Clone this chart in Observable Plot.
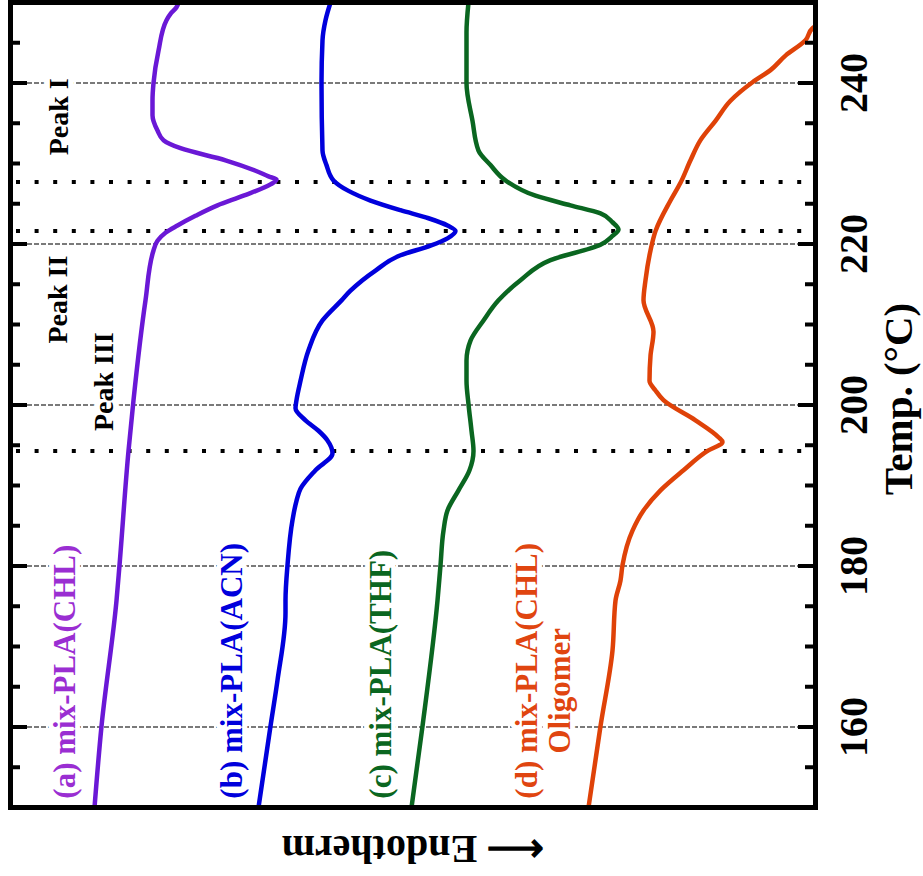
<!DOCTYPE html>
<html><head><meta charset="utf-8">
<script src="https://cdn.jsdelivr.net/npm/d3@7"></script>
<script src="https://cdn.jsdelivr.net/npm/@observablehq/plot@0.6"></script>
<style>body{margin:0;background:#fff}</style>
</head><body>
<div id="chart"></div>
<script>
// Temperature ticks (°C)
const majorTicks = [160, 180, 200, 220, 240];
const minorTicks = [155, 165, 170, 175, 185, 190, 195, 205, 210, 215, 225, 230, 235, 245];
const peakTemps = [227.7, 221.6, 194.3];

// Curve (a) mix-PLA(CHL): temperature (°C) and heat-flow signal (a.u.)
const tempA = [250, 249.4, 248.6, 247.8, 244.0, 240.0, 237.8, 236.0, 234.1, 232.9, 231.9, 230.4, 229.1, 228.4, 228.0, 227.4, 226.0, 224.8, 223.5, 222.3, 221.4, 220.4, 219.2, 213.0, 200.6, 194.3, 180.1, 175.7, 160.1, 150];
const sigA  = [178, 176, 170, 166, 158, 153, 152, 152, 157, 163, 180, 225, 255, 268, 276, 270, 243, 217, 195, 177, 165, 157, 153, 145, 133, 128, 119, 116, 101, 94];

// Curve (b) mix-PLA(ACN)
const tempB = [250, 247.8, 245.3, 240.0, 231.6, 229.8, 227.9, 226.6, 225.4, 224.2, 223.2, 222.3, 221.6, 220.7, 219.8, 218.6, 216.7, 214.2, 213.0, 210.5, 206.8, 203.0, 200.6, 199.6, 198.1, 196.8, 195.6, 194.0, 191.9, 189.6, 188.1, 185.7, 180.1, 175.7, 174.2, 165.8, 160.1, 150];
const sigB  = [330, 325, 322, 321, 322, 326, 333, 348, 370, 400, 428, 447, 455, 447, 430, 400, 375, 350, 341, 322, 308, 300, 296, 295, 305, 318, 327, 332, 315, 300, 296, 292, 287, 285, 285, 277, 270, 258];

// Curve (c) mix-PLA(THF)
const tempC = [250, 246.3, 240.0, 235.3, 231.6, 229.8, 227.9, 226.0, 224.8, 223.8, 222.7, 221.8, 221.0, 219.9, 218.0, 215.5, 213.0, 210.5, 208.0, 205.5, 203.0, 200.1, 196.8, 194.3, 191.9, 189.4, 186.9, 184.4, 180.1, 175.7, 160.1, 150];
const sigC  = [468, 466, 466, 472, 478, 490, 505, 535, 570, 600, 612, 618, 612, 600, 550, 520, 498, 483, 470, 466, 466, 468, 471, 473, 469, 458, 447, 443, 440, 437, 422, 411];

// Curve (d) mix-PLA(CHL) Oligomer
const tempD = [247.6, 246.8, 245.3, 243.4, 241.6, 240.1, 237.8, 235.3, 232.9, 230.4, 227.6, 225.4, 221.6, 219.2, 215.5, 213.0, 209.1, 206.1, 203.0, 201.8, 200.6, 198.1, 196.0, 195.4, 194.3, 191.9, 189.4, 186.9, 184.4, 180.1, 178.2, 175.7, 169.5, 160.1, 150];
const sigD  = [822, 812, 805, 785, 770, 752, 730, 715, 700, 690, 680, 670, 655, 650, 645, 643, 653, 650, 649, 655, 663, 695, 718, 722, 707, 683, 660, 643, 632, 622, 620, 615, 612, 600, 588];

const seriesNames = ["(a) mix-PLA(CHL)", "(b) mix-PLA(ACN)", "(c) mix-PLA(THF)", "(d) mix-PLA(CHL)"];
const lineColors  = ["#6a18d6", "#0000dc", "#0a6620", "#df4208"];
const textColors  = ["#9a2ed2", "#0000dc", "#0a6620", "#e04510"];

const curves = [[tempA, sigA], [tempB, sigB], [tempC, sigC], [tempD, sigD]];
const rows = curves.flatMap(([t, s], i) => t.map((T, j) => ({curve: seriesNames[i] + i, T, s: s[j], color: lineColors[i]})));

// Annotation anchors (signal position, temperature)
const curveLabels = [
  {text: seriesNames[0], s: 65, T: 151.1, color: textColors[0]},
  {text: seriesNames[1], s: 232, T: 151.1, color: textColors[1]},
  {text: seriesNames[2], s: 381, T: 151.1, color: textColors[2]},
  {text: seriesNames[3], s: 527, T: 151.1, color: textColors[3]}
];
const oligomerLabel = [{text: "Oligomer", s: 560, T: 164.5, color: textColors[3]}];
const peakLabels = [
  {text: "Peak I", s: 59, T: 235.8},
  {text: "Peak II", s: 58, T: 213.1},
  {text: "Peak III", s: 104, T: 202.9}
];

const font = "'Liberation Serif', 'Times New Roman', Times, serif";

const chart = Plot.plot({
  width: 923, height: 876,
  marginLeft: 10, marginRight: 108, marginTop: 2, marginBottom: 69,
  x: {domain: [10, 815], axis: null},
  y: {domain: [150, 250], axis: null},
  color: {type: "identity"},
  style: {fontFamily: font, fontWeight: "bold", background: "white", overflow: "visible"},
  marks: [
    Plot.ruleY(majorTicks, {y: d => d, stroke: "#7a7a7a", strokeWidth: 1.8, strokeDasharray: "5,2", insetLeft: 17, insetRight: 17}),
    Plot.ruleY(peakTemps, {y: d => d, stroke: "black", strokeWidth: 4, strokeDasharray: "4,14.6", insetLeft: 6, insetRight: 10}),
    Plot.text(peakLabels, {x: "s", y: "T", text: "text", rotate: -90, fontSize: 28, fontWeight: "bold", fill: "black", stroke: "white", strokeWidth: 12}),
    Plot.text(curveLabels, {x: "s", y: "T", text: "text", rotate: -90, textAnchor: "start", fontSize: 31, fontWeight: "bold", fill: "color", stroke: "white", strokeWidth: 10}),
    Plot.text(oligomerLabel, {x: "s", y: "T", text: "text", rotate: -90, fontSize: 31, fontWeight: "bold", fill: "color", stroke: "white", strokeWidth: 10}),
    Plot.line(rows, {x: "s", y: "T", z: "curve", stroke: "color", strokeWidth: 4.5, curve: "monotone-y", clip: true}),
    Plot.tickY(majorTicks, {y: d => d, insetRight: 788, strokeWidth: 4}),
    Plot.tickY(minorTicks, {y: d => d, insetRight: 795, strokeWidth: 4}),
    Plot.tickY(majorTicks, {y: d => d, insetLeft: 788, strokeWidth: 4}),
    Plot.tickY(minorTicks, {y: d => d, insetLeft: 795, strokeWidth: 4}),
    Plot.frame({stroke: "black", strokeWidth: 5}),
    Plot.text(majorTicks, {y: d => d, text: d => String(d), frameAnchor: "right", textAnchor: "middle", lineAnchor: "middle", dx: 39, rotate: -90, fontSize: 40, fontWeight: "bold", fill: "black"}),
    Plot.text(["Temp. (°C)"], {text: d => d, frameAnchor: "right", textAnchor: "middle", lineAnchor: "middle", dx: 83, dy: -6, rotate: -90, fontSize: 41, fontWeight: "bold", fill: "black"}),
    Plot.text(["⟵ Endotherm"], {text: d => d, frameAnchor: "bottom", textAnchor: "middle", lineAnchor: "middle", dy: 41, rotate: 180, fontSize: 40, fontWeight: "bold", fill: "black"})
  ]
});
document.getElementById("chart").appendChild(chart);
</script>
</body></html>
